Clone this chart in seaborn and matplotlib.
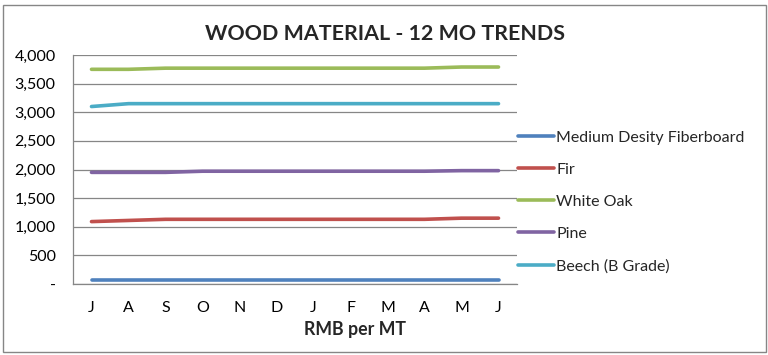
import matplotlib
matplotlib.use("Agg")
import matplotlib.pyplot as plt
import seaborn as sns
import pandas as pd
from matplotlib.patches import Rectangle
from matplotlib.ticker import FuncFormatter

# dados
months = ["J", "A", "S", "O", "N", "D", "J", "F", "M", "A", "M", "J"]
mdf = [70, 70, 70, 70, 70, 70, 70, 70, 70, 70, 70, 70]
fir = [1090, 1110, 1130, 1130, 1130, 1130, 1130, 1130, 1130, 1130, 1150, 1150]
white_oak = [3750, 3750, 3770, 3770, 3770, 3770, 3770, 3770, 3770, 3770, 3790, 3790]
pine = [1950, 1950, 1950, 1970, 1970, 1970, 1970, 1970, 1970, 1970, 1980, 1980]
beech = [3100, 3150, 3150, 3150, 3150, 3150, 3150, 3150, 3150, 3150, 3150, 3150]

series_names = ["Medium Desity Fiberboard", "Fir", "White Oak", "Pine", "Beech (B Grade)"]
series_values = [mdf, fir, white_oak, pine, beech]
colors = ["#4F81BD", "#C0504D", "#9BBB59", "#8064A2", "#4BACC6"]

rows = []
for name, vals in zip(series_names, series_values):
    for i, v in enumerate(vals):
        rows.append({"pos": i, "material": name, "value": v})
df = pd.DataFrame(rows)

sns.set_style("white")
plt.rcParams["font.family"] = ["Lato", "DejaVu Sans"]

fig = plt.figure(figsize=(7.68, 3.55), dpi=100)
ax = fig.add_axes([73 / 768, 1 - 284 / 355, 444 / 768, 229 / 355])

sns.lineplot(data=df, x="pos", y="value", hue="material", hue_order=series_names,
             palette=colors, linewidth=2.6, ax=ax)

ax.set_xlim(-0.5, 11.5)
ax.set_ylim(0, 4000)
ax.set_yticks(range(0, 4001, 500))
ax.yaxis.set_major_formatter(FuncFormatter(lambda v, p: "-" if v == 0 else f"{int(v):,}"))
ax.set_xticks(range(12))
ax.set_xticklabels(months)
ax.tick_params(axis="both", length=0, labelsize=11.5, colors="black")
ax.tick_params(axis="x", pad=12)
ax.tick_params(axis="y", pad=12.5)
ax.grid(axis="y", color="#868686", linewidth=0.9)
ax.set_axisbelow(True)
for s in ["top", "right"]:
    ax.spines[s].set_visible(False)
for s in ["left", "bottom"]:
    ax.spines[s].set_color("#868686")
    ax.spines[s].set_linewidth(0.9)

ax.set_xlabel("")
ax.set_ylabel("")
# o rotulo do eixo x fica deslocado para a direita no original
fig.text(355 / 768, 1 - 330 / 355, "RMB per MT", ha="center", va="center",
         fontsize=12.8, fontweight="bold")

leg = ax.legend(loc="center left", bbox_to_anchor=(1.0 - 5 / 444, (284 - 202) / 229), frameon=False,
                fontsize=11.5, handlelength=2.25, handletextpad=0.12,
                labelspacing=1.12, borderaxespad=0.0)
for line in leg.get_lines():
    line.set_linewidth(2.6)

fig.text(385 / 768, 1 - 34 / 355, "WOOD MATERIAL - 12 MO TRENDS", ha="center", va="center",
         fontsize=15.4, fontweight="bold")

fig.patches.append(Rectangle((3 / 768, 3 / 355), 763 / 768, 347 / 355, transform=fig.transFigure,
                             fill=False, edgecolor="#868686", linewidth=1.0))

fig.savefig("out.png", dpi=100)
